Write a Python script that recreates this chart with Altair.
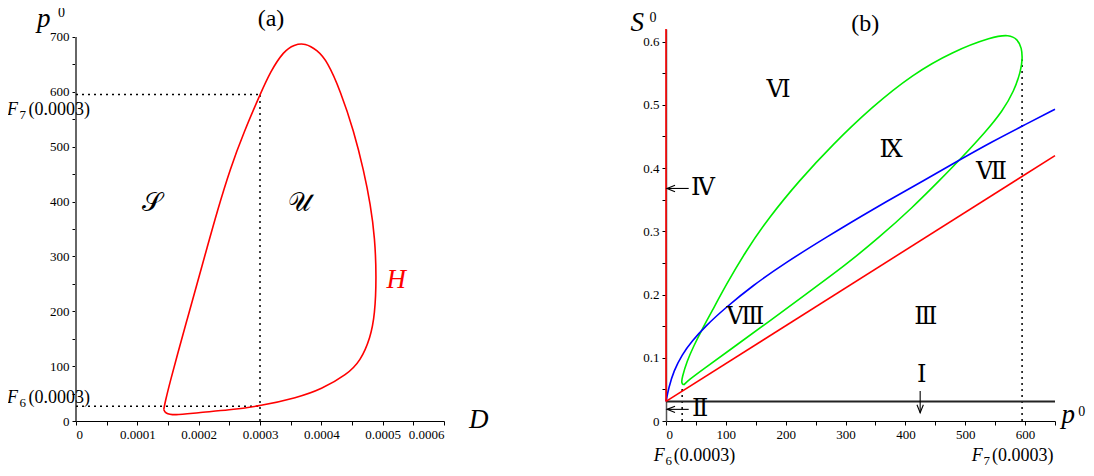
import altair as alt
import pandas as pd

SERIF = "Liberation Serif"
RSERIF = "DejaVu Serif"

# ---------------- panel (a) data ----------------
H_D = [0.0001431, 0.0001457, 0.0001538, 0.0001648, 0.0001811, 0.0001974, 0.0002137, 0.0002300,
       0.0002517, 0.0002736, 0.0003002, 0.0003170, 0.0003388, 0.0003556, 0.0003736, 0.0003931,
       0.0004095, 0.0004312, 0.0004530, 0.0004693, 0.0004801, 0.0004873, 0.0004899, 0.0004873,
       0.0004801, 0.0004638, 0.0004421, 0.0003997, 0.0003605, 0.0003002, 0.0002501, 0.0001974,
       0.0001594, 0.0001452, 0.0001431]
H_p = [21.1, 36.5, 72.9, 119, 184.7, 250.3, 315.9, 381.5,
       461, 526, 595.3, 637, 674.4, 686, 689, 676,
       656.2, 601.5, 528.6, 455.7, 394.8, 334.1, 261.2, 194.3,
       151.8, 109.4, 84.9, 57.6, 42.5, 27.3, 20.1, 15.1,
       10.2, 14.2, 21.1]
F6 = 27
F7 = 595
D_STAR = 0.0003

# ---------------- panel (b) data ----------------
G_p = [29.6, 25.7, 26.8, 35.1, 46.3, 60.2, 77, 99.3, 132.7, 171.8, 222, 277.7, 344.7, 411.6,
       478.5, 545.5, 573.3, 587.2, 594.5, 595.6, 592.8, 581.7, 562.2, 534.3, 495.3, 456.2,
       411.6, 355.8, 300, 233.1, 171.8, 110.4, 60.2, 37.9, 29.6]
G_S = [0.057, 0.060, 0.0686, 0.0949, 0.1186, 0.145, 0.174, 0.2135, 0.2678, 0.3216, 0.3796,
       0.4366, 0.4972, 0.548, 0.5842, 0.6079, 0.611, 0.604, 0.590, 0.572, 0.5536, 0.522, 0.490,
       0.4576, 0.4176, 0.3796, 0.3374, 0.290, 0.2467, 0.2003, 0.157, 0.115, 0.0807, 0.0649, 0.057]
B_p = [0, 4.5, 12.8, 26.8, 43.5, 65.8, 99.3, 143.9, 199.7, 266.6, 344.7, 433.9, 495.3, 545.5,
       595.6, 650]
B_S = [0.031, 0.0527, 0.079, 0.105, 0.1265, 0.150, 0.179, 0.2135, 0.2504, 0.290, 0.3345, 0.382,
       0.4155, 0.442, 0.4666, 0.493]
R_p = [0, 650]
R_S = [0.031, 0.4197]
S_LINE = 0.031
P_MAX = 650
S_TOP = 0.62

# ---------------- scales / axes ----------------
xa_scale = alt.Scale(domain=[0, 0.0006], nice=False)
ya_scale = alt.Scale(domain=[0, 714.5], nice=False)
xb_scale = alt.Scale(domain=[0, P_MAX], nice=False)
yb_scale = alt.Scale(domain=[0, S_TOP], nice=False)

common_axis = dict(title=None, grid=False, tickColor="black", tickSize=4, tickWidth=1,
                   labelFont=SERIF, labelFontSize=13, labelColor="black")

axis_xa = alt.Axis(values=[round(i * 0.00005, 6) for i in range(13)],
                   labelExpr="round(datum.value*20000) % 2 == 0 ? format(datum.value, '.4~f') : ''",
                   domainColor="black", domainWidth=1.2, labelPadding=3, **common_axis)
axis_ya = alt.Axis(values=list(range(0, 701, 50)),
                   labelExpr="datum.value % 100 == 0 ? datum.label : ''",
                   domain=False, labelPadding=3, **common_axis)
axis_xb = alt.Axis(values=list(range(0, 651, 50)),
                   labelExpr="datum.value % 100 == 0 ? datum.label : ''",
                   domainColor="black", domainWidth=1.2, labelPadding=3, **common_axis)
axis_yb = alt.Axis(values=[round(i * 0.05, 2) for i in range(13)],
                   labelExpr="round(datum.value*20) % 2 == 0 ? format(datum.value, '.1~f') : ''",
                   domainColor="#555", domainWidth=1.5, labelPadding=3, **common_axis)

XA = lambda f="x": alt.X(f"{f}:Q", scale=xa_scale, axis=axis_xa)
YA = lambda f="y": alt.Y(f"{f}:Q", scale=ya_scale, axis=axis_ya)
XB = lambda f="x": alt.X(f"{f}:Q", scale=xb_scale, axis=axis_xb)
YB = lambda f="y": alt.Y(f"{f}:Q", scale=yb_scale, axis=axis_yb)


def text_layer(xs, ys, ts, X, Y, **kw):
    base = dict(font=SERIF, color="black", baseline="alphabetic", align="left")
    base.update(kw)
    df = pd.DataFrame({"x": xs, "y": ys, "t": ts})
    return alt.Chart(df).mark_text(**base).encode(x=X(), y=Y(), text="t:N")


# ---------------- panel (a) ----------------
dfH = pd.DataFrame({"x": H_D, "y": H_p, "i": list(range(len(H_D)))})
lineH = alt.Chart(dfH).mark_line(color="red", strokeWidth=1.6, interpolate="basis").encode(
    x=XA(), y=YA(), order="i:Q")

dfDotA = pd.DataFrame({"x": [0, 0, D_STAR], "x2": [D_STAR, D_STAR, D_STAR],
                       "y": [F7, F6, 0], "y2": [F7, F6, F7]})
dotA = alt.Chart(dfDotA).mark_rule(color="black", strokeWidth=1.5, strokeDash=[2, 4]).encode(
    x=XA(), x2="x2:Q", y=YA(), y2="y2:Q")

dfAxA = pd.DataFrame({"x": [0], "y": [0], "y2": [700]})
axA = alt.Chart(dfAxA).mark_rule(color="#666", strokeWidth=2).encode(x=XA(), y=YA(), y2="y2:Q")

tA_title = text_layer([0.000318], [720], ["(a)"], XA, YA, fontSize=24, align="center")
tA_ital = text_layer([-0.0000636, 0.0006406], [718, -12.2], ["p", "D"], XA, YA,
                     fontSize=27, fontStyle="italic")
tA_sup = text_layer([-0.0000294], [736], ["0"], XA, YA, fontSize=14)
tA_regions = text_layer([0.000124, 0.000365], [396.5, 396.5], ["𝒮", "𝒰"], XA, YA,
                        fontSize=26, align="center", baseline="middle")
tA_H = text_layer([0.0005062], [243.2], ["H"], XA, YA, fontSize=27, fontStyle="italic", color="red")
tA_F = text_layer([-0.0001126, -0.0001126], [558, 33.4], ["F", "F"], XA, YA,
                  fontSize=18, fontStyle="italic")
tA_sub = text_layer([-0.0000922, -0.0000922], [551, 26], ["7", "6"], XA, YA, fontSize=13)
tA_Fr = text_layer([0.0000228, 0.0000228], [558, 33.4], ["(0.0003)", "(0.0003)"], XA, YA,
                   fontSize=18, align="right")

left = alt.layer(axA, dotA, lineH, tA_title, tA_ital, tA_sup, tA_regions, tA_H, tA_F, tA_sub,
                 tA_Fr).properties(width=368, height=392)

# ---------------- panel (b) ----------------
dfG = pd.DataFrame({"x": G_p, "y": G_S, "i": list(range(len(G_p)))})
lineG = alt.Chart(dfG).mark_line(color="#00ee00", strokeWidth=1.6, interpolate="basis").encode(
    x=XB(), y=YB(), order="i:Q")
dfB = pd.DataFrame({"x": B_p, "y": B_S, "i": list(range(len(B_p)))})
lineB = alt.Chart(dfB).mark_line(color="blue", strokeWidth=1.6, interpolate="basis").encode(
    x=XB(), y=YB(), order="i:Q")

dfR = pd.DataFrame({"x": [R_p[0], 0], "x2": [R_p[1], 0], "y": [R_S[0], S_LINE], "y2": [R_S[1], S_TOP]})
rulesR = alt.Chart(dfR).mark_rule(color="red", strokeWidth=1.6).encode(
    x=XB(), x2="x2:Q", y=YB(), y2="y2:Q")
dfK = pd.DataFrame({"x": [0], "x2": [P_MAX], "y": [S_LINE]})
ruleK = alt.Chart(dfK).mark_rule(color="#222", strokeWidth=2).encode(x=XB(), x2="x2:Q", y=YB())

dfDotB = pd.DataFrame({"x": [F6, F7], "y": [0, 0], "y2": [0.057, 0.572]})
dotB = alt.Chart(dfDotB).mark_rule(color="black", strokeWidth=1.5, strokeDash=[2, 4]).encode(
    x=XB(), y=YB(), y2="y2:Q")

# arrows (shaft + chevron head)
ARROW_X = [1.7, 1.7, 424.7]
ARROW_X2 = [37.9, 37.9, 424.7]
ARROW_Y = [0.3678, 0.0184, 0.0131]
ARROW_Y2 = [0.3678, 0.0184, 0.0475]
dfShaft = pd.DataFrame({"x": ARROW_X, "x2": ARROW_X2, "y": ARROW_Y, "y2": ARROW_Y2})
shafts = alt.Chart(dfShaft).mark_rule(color="black", strokeWidth=1.1).encode(
    x=XB(), x2="x2:Q", y=YB(), y2="y2:Q")
headL = alt.Chart(pd.DataFrame({"x": [8.4, 8.4], "y": [0.3678, 0.0184]})).mark_point(
    shape="M1,-0.8 L-1,0 L1,0.8", size=64, filled=False, color="black", strokeWidth=1.1,
    opacity=1).encode(x=XB(), y=YB())
headD = alt.Chart(pd.DataFrame({"x": [424.7], "y": [0.0194]})).mark_point(
    shape="M-0.8,-1 L0,1 L0.8,-1", size=64, filled=False, color="black", strokeWidth=1.1,
    opacity=1).encode(x=XB(), y=YB())

tB_title = text_layer([333], [0.617], ["(b)"], XB, YB, fontSize=24, align="center")
tB_ital = text_layer([-59.4, 661], [0.617, -0.0027], ["S", "p"], XB, YB,
                     fontSize=27, fontStyle="italic")
tB_sup = text_layer([-27.7, 689], [0.6316, 0.0084], ["0", "0"], XB, YB, fontSize=14)
tB_roman = text_layer([188, 376, 544, 132.6, 434.2, 427.4],
                      [0.523, 0.4283, 0.3935, 0.1647, 0.1647, 0.0732],
                      ["Ⅵ", "Ⅸ", "Ⅶ", "Ⅷ", "Ⅲ", "Ⅰ"],
                      XB, YB, font=RSERIF, fontSize=24, align="center", baseline="middle")
tB_roman2 = text_layer([41.7, 43.4], [0.3678, 0.0184], ["Ⅳ", "Ⅱ"],
                       XB, YB, font=RSERIF, fontSize=24, align="left", baseline="middle")
tB_F = text_layer([-20.5, 510.8], [-0.0628, -0.0628], ["F", "F"], XB, YB,
                  fontSize=18, fontStyle="italic")
tB_sub = text_layer([-1, 530.4], [-0.0691, -0.0691], ["6", "7"], XB, YB, fontSize=13)
tB_Fr = text_layer([115.9, 647.3], [-0.0628, -0.0628], ["(0.0003)", "(0.0003)"], XB, YB,
                   fontSize=18, align="right")

right = alt.layer(dotB, ruleK, lineG, lineB, rulesR, shafts, headL, headD, tB_title, tB_ital,
                  tB_sup, tB_roman, tB_roman2, tB_F, tB_sub, tB_Fr).properties(width=389, height=392)

chart = alt.hconcat(left, right, spacing=141).configure_view(stroke=None).properties(
    padding={"left": -2, "top": -3, "right": 0, "bottom": 0})

chart.save("out.html", embed_options={"renderer": "svg", "actions": False})
